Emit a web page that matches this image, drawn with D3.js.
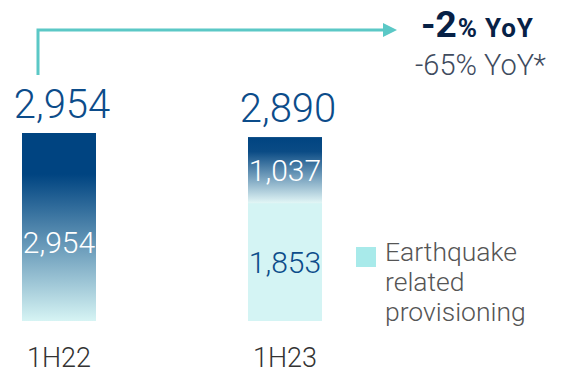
<!DOCTYPE html>
<html>
<head>
<meta charset="utf-8">
<script src="https://cdn.jsdelivr.net/npm/d3@7"></script>
<style>
  html, body { margin: 0; padding: 0; background: #ffffff; }
  svg { display: block; }
  text { font-family: Roboto, "Liberation Sans", Arial, sans-serif; }
</style>
</head>
<body>
<div id="chart"></div>
<script>
// Loan-loss provisions, half-year comparison (€m)
const categories = ["1H22", "1H23"];
const totals = [2954, 2890];
const underlying = [2954, 1037];     // provisions excluding earthquake
const earthquake = [0, 1853];        // earthquake related provisioning
const legendLabel = ["Earthquake", "related", "provisioning"];
const headline = { big: "-2", small: "% YoY" };
const subline = "-65% YoY*";

const W = 561, H = 373;
const svg = d3.select("#chart").append("svg")
  .attr("width", W).attr("height", H);

const fmt = d3.format(",");

const x = d3.scalePoint().domain(categories).range([59, 285]);
const barW = 74;
const y = d3.scaleLinear().domain([0, d3.max(totals)]).range([321, 133]);

// gradients
const defs = svg.append("defs");
const g1 = defs.append("linearGradient").attr("id", "gradFull")
  .attr("x1", 0).attr("y1", 0).attr("x2", 0).attr("y2", 1);
g1.append("stop").attr("offset", "0%").attr("stop-color", "#004481");
g1.append("stop").attr("offset", "22%").attr("stop-color", "#004481");
g1.append("stop").attr("offset", "100%").attr("stop-color", "#d6f4f4");

const g2 = defs.append("linearGradient").attr("id", "gradTop")
  .attr("x1", 0).attr("y1", 0).attr("x2", 0).attr("y2", 1);
g2.append("stop").attr("offset", "0%").attr("stop-color", "#004481");
g2.append("stop").attr("offset", "22%").attr("stop-color", "#0a4b85");
g2.append("stop").attr("offset", "100%").attr("stop-color", "#e2f6f6");

const rows = categories.map((c, i) => ({
  cat: c, total: totals[i], top: underlying[i], base: earthquake[i]
}));

// earthquake segment (bottom)
svg.selectAll("rect.base").data(rows.filter(d => d.base > 0)).join("rect")
  .attr("class", "base")
  .attr("x", d => x(d.cat) - barW / 2)
  .attr("width", barW)
  .attr("y", d => y(d.base))
  .attr("height", d => y(0) - y(d.base))
  .attr("fill", "#d4f4f4");

// underlying segment (stacked on top)
svg.selectAll("rect.top").data(rows).join("rect")
  .attr("class", "top")
  .attr("x", d => x(d.cat) - barW / 2)
  .attr("width", barW)
  .attr("y", d => y(d.base + d.top))
  .attr("height", d => y(d.base) - y(d.base + d.top))
  .attr("fill", d => d.base > 0 ? "url(#gradTop)" : "url(#gradFull)");

// value labels inside bars
svg.selectAll("text.topv").data(rows).join("text")
  .attr("class", "topv")
  .attr("x", d => x(d.cat))
  .attr("y", d => d.base > 0 ? y(d.base + d.top / 2) + 11 : y(d.top * 0.42) + 11)
  .attr("text-anchor", "middle")
  .attr("font-size", 30).attr("font-weight", 300)
  .attr("fill", "#ffffff")
  .text(d => fmt(d.top));

svg.selectAll("text.basev").data(rows.filter(d => d.base > 0)).join("text")
  .attr("class", "basev")
  .attr("x", d => x(d.cat))
  .attr("y", d => y(d.base / 2) + 11)
  .attr("text-anchor", "middle")
  .attr("font-size", 30).attr("font-weight", 300)
  .attr("fill", "#0c4c8a")
  .text(d => fmt(d.base));

// totals above bars
svg.selectAll("text.tot").data(rows).join("text")
  .attr("class", "tot")
  .attr("x", d => x(d.cat) + 3)
  .attr("y", d => y(d.total) - 15)
  .attr("text-anchor", "middle")
  .attr("font-size", 40).attr("font-weight", 300)
  .attr("fill", "#0c4c8a")
  .text(d => fmt(d.total));

// category axis labels
svg.selectAll("text.cat").data(categories).join("text")
  .attr("class", "cat")
  .attr("x", d => x(d))
  .attr("y", 367)
  .attr("text-anchor", "middle")
  .attr("font-size", 27).attr("font-weight", 300)
  .attr("fill", "#333333")
  .text(d => d);

// change arrow
const ax = x(categories[0]) - 21;
svg.append("path")
  .attr("d", `M${ax},75 V30 H384`)
  .attr("fill", "none")
  .attr("stroke", "#5bc8c6")
  .attr("stroke-width", 3);
svg.append("path")
  .attr("d", "M383,23 L397,30 L383,37 Z")
  .attr("fill", "#5bc8c6");

const head = svg.append("text")
  .attr("x", 421).attr("y", 37)
  .attr("fill", "#072146").attr("font-weight", 700);
head.append("tspan").attr("font-size", 37).text(headline.big);
head.append("tspan").attr("font-size", 26).attr("dx", 1)
  .attr("letter-spacing", 0.8).text(headline.small);

svg.append("text")
  .attr("x", 415).attr("y", 75)
  .attr("font-size", 29).attr("font-weight", 300)
  .attr("fill", "#404b5e")
  .text(subline);

// legend
svg.append("rect")
  .attr("x", 356).attr("y", 247).attr("width", 20).attr("height", 20)
  .attr("fill", "#a8eaea");
svg.selectAll("text.legend").data(legendLabel).join("text")
  .attr("class", "legend")
  .attr("x", 385)
  .attr("y", (d, i) => 261 + i * 30)
  .attr("font-size", 26.5).attr("font-weight", 300)
  .attr("fill", "#555555")
  .text(d => d);
</script>
</body>
</html>
